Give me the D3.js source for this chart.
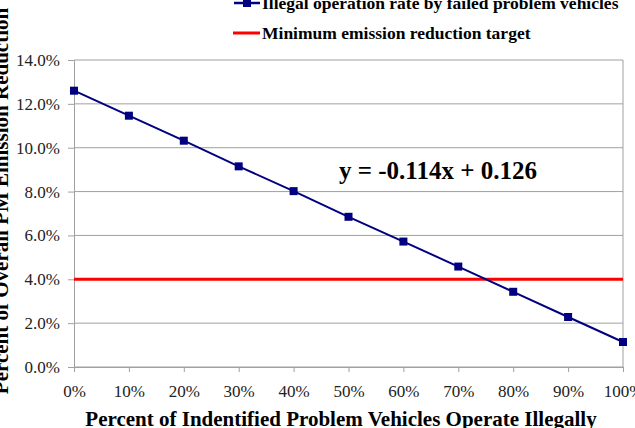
<!DOCTYPE html>
<html><head><meta charset="utf-8">
<script src="https://cdn.jsdelivr.net/npm/d3@7"></script>
<style>body{margin:0;background:#fff;}svg{display:block;} text{font-family:"Liberation Serif","Times New Roman",serif;}</style>
</head><body>
<svg id="c" width="635" height="428"></svg>
<script>
const xValues = [0, 0.1, 0.2, 0.3, 0.4, 0.5, 0.6, 0.7, 0.8, 0.9, 1.0];
const rateValues = [0.126, 0.1146, 0.1032, 0.0915, 0.0802, 0.0685, 0.0572, 0.0458, 0.0343, 0.0228, 0.0114];
const targetValue = 0.04;
const yTicks = [0, 0.02, 0.04, 0.06, 0.08, 0.10, 0.12, 0.14];
const xTicks = [0, 0.1, 0.2, 0.3, 0.4, 0.5, 0.6, 0.7, 0.8, 0.9, 1.0];
const seriesNames = ["Illegal operation rate by failed problem vehicles", "Minimum emission reduction target"];
const equation = "y = -0.114x + 0.126";

const svg = d3.select("#c");
const L = 74, R = 623, T = 60, B = 367;
const x = d3.scaleLinear().domain([0, 1]).range([L, R]);
const y = d3.scaleLinear().domain([0, 0.14]).range([B, T]);
const serif = '"Liberation Serif", "Times New Roman", serif';

// gridlines
svg.append("g").selectAll("line").data(yTicks).join("line")
  .attr("x1", L).attr("x2", R).attr("y1", d => y(d)).attr("y2", d => y(d))
  .attr("stroke", "#a0a0a0").attr("stroke-width", 1);
// right border
svg.append("line").attr("x1", R).attr("x2", R).attr("y1", T).attr("y2", B).attr("stroke", "#a0a0a0");

// y axis
const ya = svg.append("g").attr("transform", `translate(${L},0)`)
  .call(d3.axisLeft(y).tickValues(yTicks).tickFormat(d3.format(".1%")).tickSize(6).tickPadding(8));
ya.attr("font-family", null).attr("font-size", null);
ya.select(".domain").attr("stroke", "#a0a0a0");
ya.selectAll(".tick line").attr("stroke", "#a0a0a0");
ya.selectAll("text").style("font-family", serif).style("font-size", "17px").attr("fill", "#222");

// x axis
const xa = svg.append("g").attr("transform", `translate(0,${B})`)
  .call(d3.axisBottom(x).tickValues(xTicks).tickFormat(d3.format(".0%")).tickSize(5).tickPadding(13));
xa.attr("font-family", null).attr("font-size", null);
xa.select(".domain").attr("stroke", "#a0a0a0");
xa.selectAll(".tick line").attr("stroke", "#a0a0a0");
xa.selectAll("text").style("font-family", serif).style("font-size", "17px").attr("fill", "#222");

// target line
svg.append("line").attr("x1", x(0)).attr("x2", x(1)).attr("y1", y(targetValue)).attr("y2", y(targetValue))
  .attr("stroke", "#ff0000").attr("stroke-width", 3);

// series line
const pts = xValues.map((v, i) => [v, rateValues[i]]);
svg.append("path").datum(pts)
  .attr("d", d3.line().x(d => x(d[0])).y(d => y(d[1])))
  .attr("fill", "none").attr("stroke", "#000080").attr("stroke-width", 2);
svg.append("g").selectAll("rect").data(pts).join("rect")
  .attr("x", d => x(d[0]) - 4).attr("y", d => y(d[1]) - 4)
  .attr("width", 8).attr("height", 8).attr("fill", "#000080");

// equation
svg.append("text").attr("x", 339).attr("y", 179).text(equation)
  .style("font-family", serif).attr("font-weight", "bold").style("font-size", "25px").attr("fill", "#000");

// legend
const lg = svg.append("g");
lg.append("line").attr("x1", 234).attr("x2", 260).attr("y1", 3).attr("y2", 3).attr("stroke", "#000080").attr("stroke-width", 2.5);
lg.append("rect").attr("x", 243).attr("y", -1).attr("width", 8).attr("height", 8).attr("fill", "#000080");
lg.append("text").attr("x", 262).attr("y", 9).text(seriesNames[0])
  .style("font-family", serif).attr("font-weight", "bold").style("font-size", "17.5px");
lg.append("line").attr("x1", 233).attr("x2", 260).attr("y1", 33).attr("y2", 33).attr("stroke", "#ff0000").attr("stroke-width", 3);
lg.append("text").attr("x", 262).attr("y", 39).text(seriesNames[1])
  .style("font-family", serif).attr("font-weight", "bold").style("font-size", "17.5px");

// axis titles
svg.append("text").attr("x", 341).attr("y", 426).attr("text-anchor", "middle")
  .text("Percent of Indentified Problem Vehicles Operate Illegally")
  .style("font-family", serif).attr("font-weight", "bold").style("font-size", "21px");
svg.append("text").attr("transform", "translate(8,201) rotate(-90)").attr("text-anchor", "middle")
  .text("Percent of Overall PM Emission Reduction")
  .style("font-family", serif).attr("font-weight", "bold").style("font-size", "21px");
</script>
</body></html>
